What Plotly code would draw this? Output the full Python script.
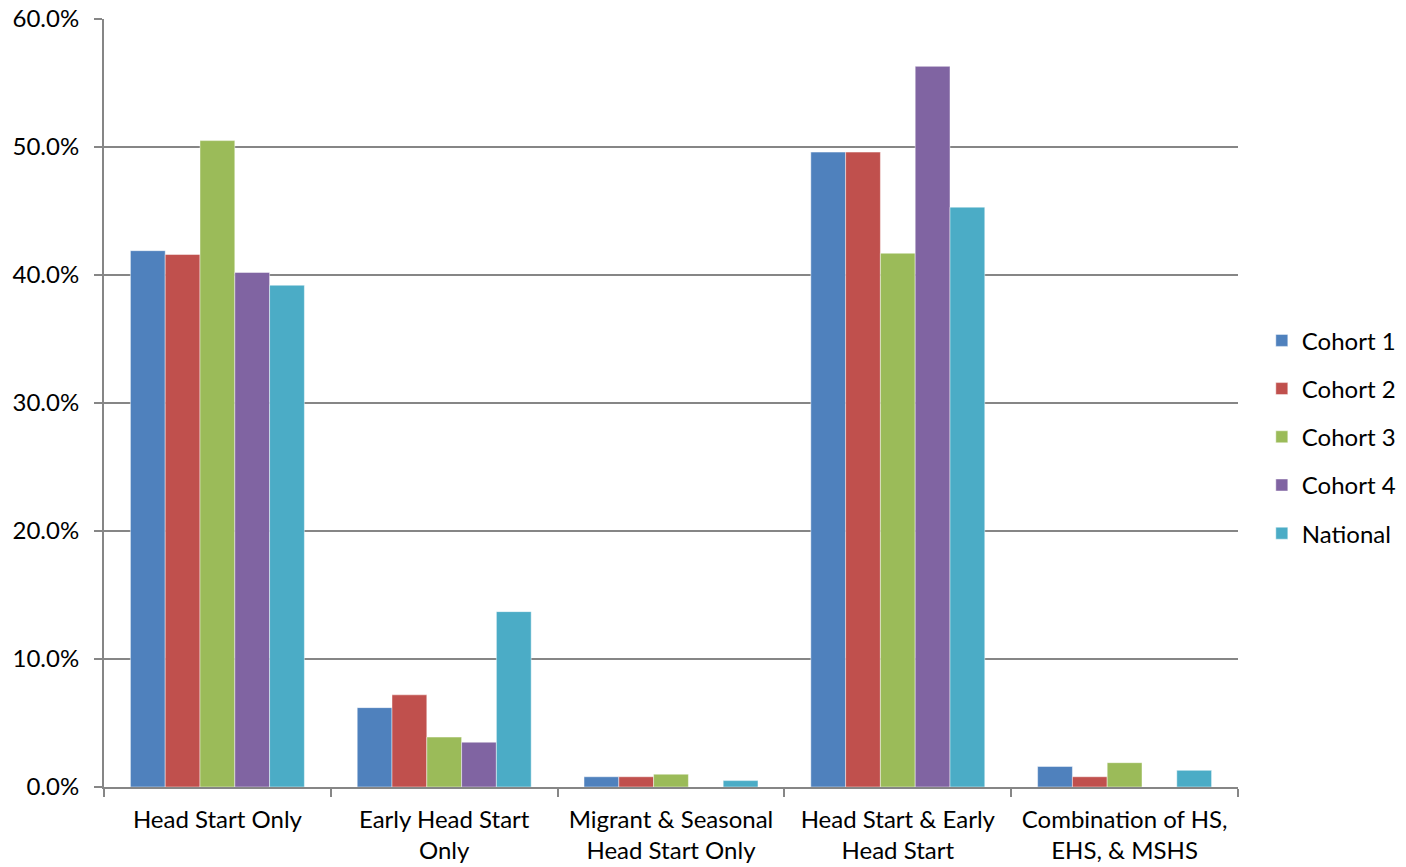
import plotly.graph_objects as go

categories = ["Head Start Only", "Early Head Start<br>Only", "Migrant & Seasonal<br>Head Start Only",
              "Head Start & Early<br>Head Start", "Combination of HS,<br>EHS, & MSHS"]
cohort1 = [0.419, 0.062, 0.008, 0.496, 0.016]
cohort2 = [0.416, 0.072, 0.008, 0.496, 0.008]
cohort3 = [0.505, 0.039, 0.010, 0.417, 0.019]
cohort4 = [0.402, 0.035, None, 0.563, None]
national = [0.392, 0.137, 0.005, 0.453, 0.013]

series_names = ["Cohort 1", "Cohort 2", "Cohort 3", "Cohort 4", "National"]
series_values = [cohort1, cohort2, cohort3, cohort4, national]
colors = ["#4F81BD", "#C0504D", "#9BBB59", "#8064A2", "#4BACC6"]

FONT = "Lato"
FS = 24
fig = go.Figure()
for name, vals, c in zip(series_names, series_values, colors):
    fig.add_trace(go.Bar(x=categories, y=vals, name=name, legendgroup=name,
                         marker=dict(color=c, line=dict(color="rgba(255,255,255,0.45)", width=1))))

fig.update_layout(
    width=1406, height=867,
    margin=dict(l=104, r=168, t=19, b=80, autoexpand=False),
    plot_bgcolor="white", paper_bgcolor="white",
    barmode="group", bargap=0.233, bargroupgap=0,
    font=dict(family=FONT, size=FS, color="#000000"),
    legend=dict(x=1.021, xanchor="left", y=0.456, yanchor="middle",
                tracegroupgap=14, font=dict(size=FS)),
    xaxis=dict(showline=True, linecolor="#868686", linewidth=2,
               ticks="outside", tickson="boundaries", ticklen=8, tickcolor="#868686", tickwidth=2,
               showgrid=False, tickfont=dict(size=FS), ticklabelstandoff=10),
    yaxis=dict(range=[0, 0.6], dtick=0.1, tickformat=".1%",
               showline=True, linecolor="#868686", linewidth=2,
               ticks="outside", ticklen=8, tickcolor="#868686", tickwidth=2,
               showgrid=True, gridcolor="#868686", gridwidth=2,
               zeroline=False, tickfont=dict(size=FS), ticklabelstandoff=10),
)
fig.write_html("out.html")
